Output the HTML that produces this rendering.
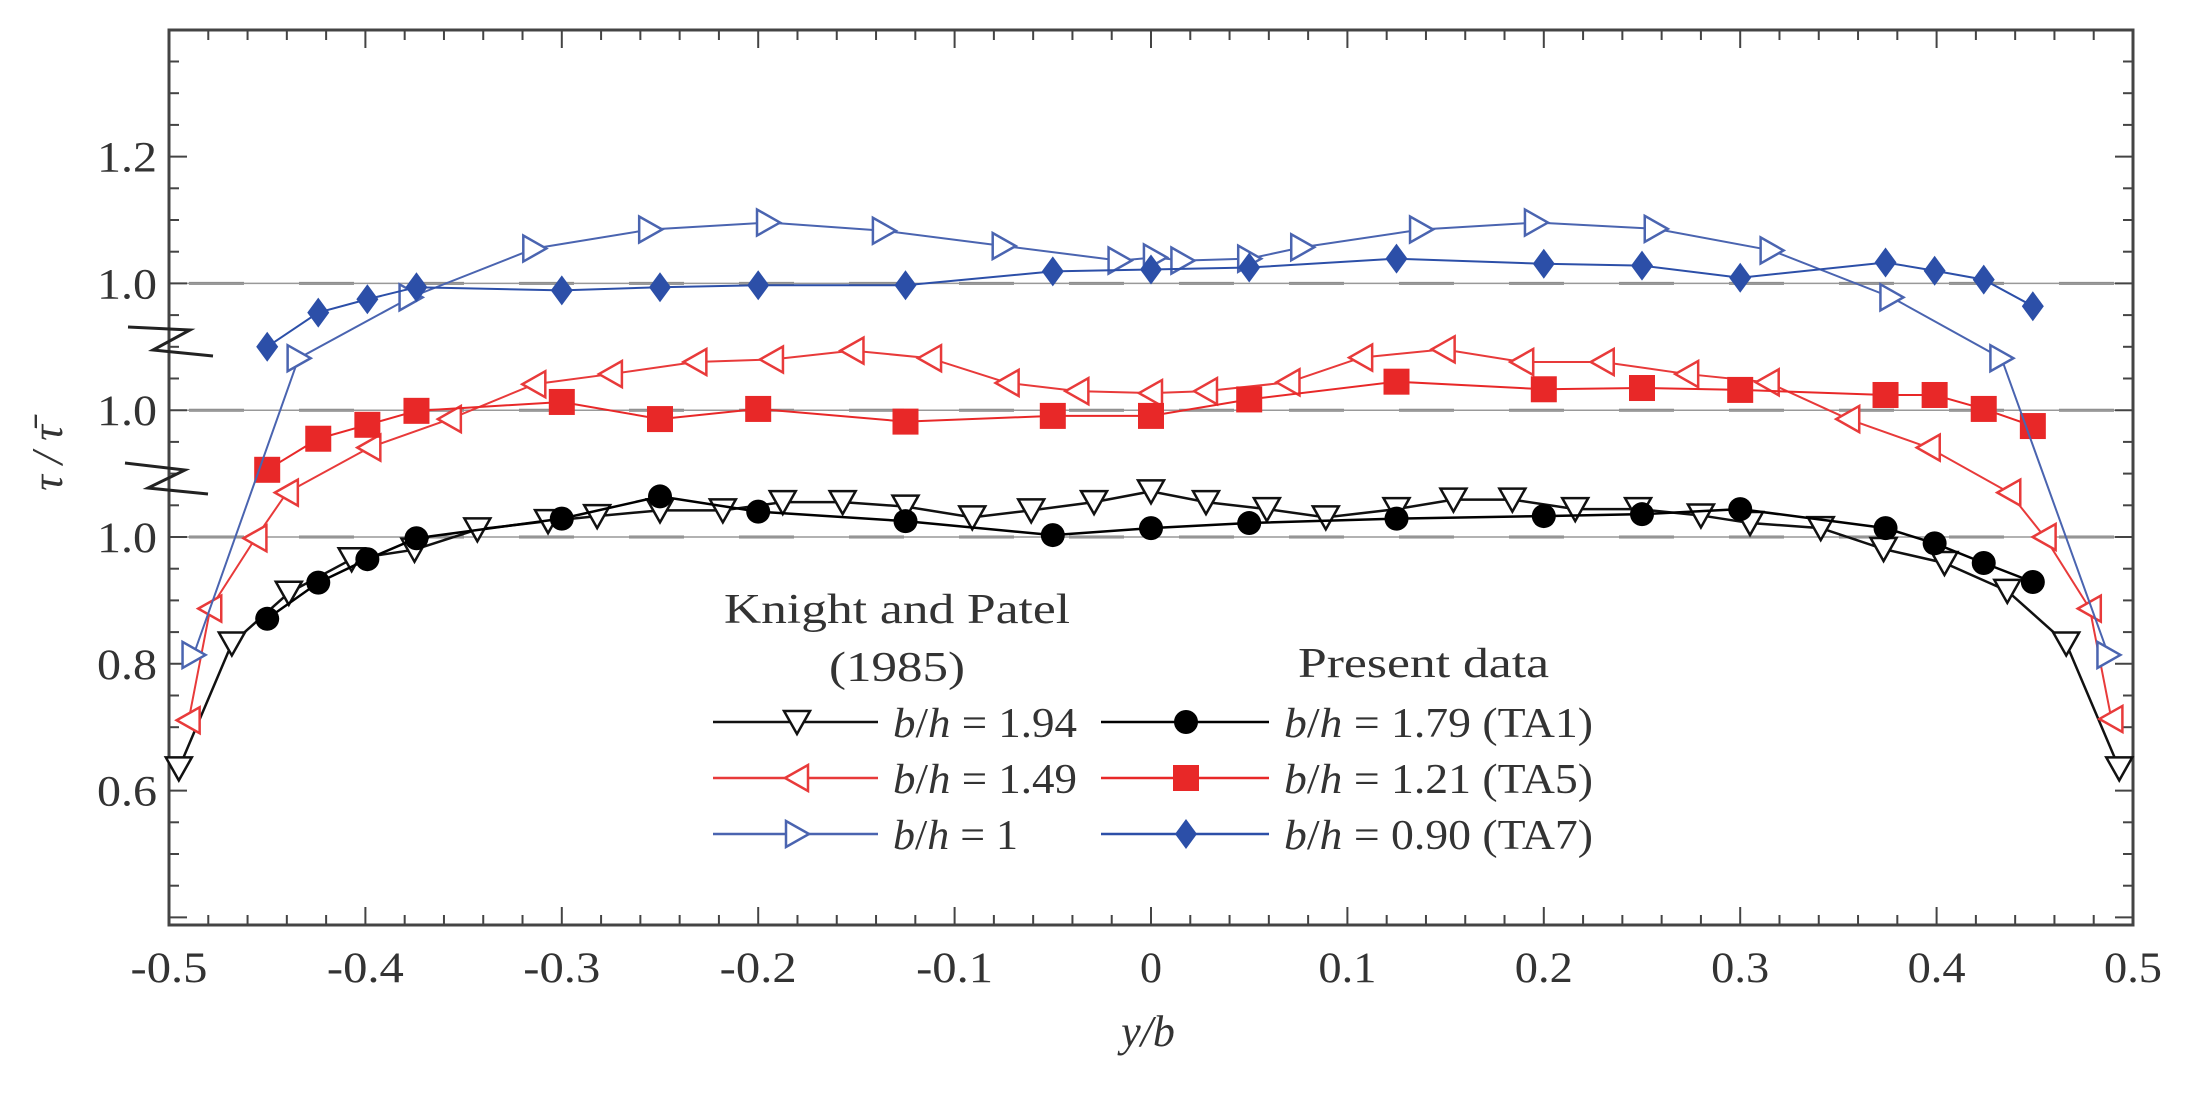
<!DOCTYPE html>
<html><head><meta charset="utf-8">
<style>
html,body{margin:0;padding:0;background:#fff;}
svg{display:block;font-family:"Liberation Serif",serif;}
</style></head>
<body>
<svg id="chart" width="2203" height="1093" viewBox="0 0 2203 1093" xmlns="http://www.w3.org/2000/svg">
<g id="grid"></g>
<g id="axes"></g>
<g id="series"></g>
<g id="legend">
  <text x="724" y="623" font-size="42" textLength="346" lengthAdjust="spacingAndGlyphs" fill="#333">Knight and Patel</text>
  <text x="829" y="681" font-size="42" textLength="136" lengthAdjust="spacingAndGlyphs" fill="#333">(1985)</text>
  <text x="1298" y="677" font-size="42" textLength="251" lengthAdjust="spacingAndGlyphs" fill="#333">Present data</text>
</g>
<text x="1148" y="1046" font-size="44" font-style="italic" text-anchor="middle" fill="#333">y/b</text>
<text transform="translate(62,458) rotate(-90)" font-size="44" font-style="italic" text-anchor="middle" fill="#333">τ / τ̄</text>
</svg>
<script>
// ---- data ----
const xKP194 = [-0.495,-0.468,-0.439,-0.407,-0.375,-0.343,-0.307,-0.282,-0.25,-0.218,-0.1875,-0.157,-0.125,-0.091,-0.061,-0.029,0,0.028,0.059,0.089,0.125,0.154,0.184,0.216,0.248,0.28,0.305,0.341,0.373,0.404,0.436,0.466,0.493];
const yKP194 = [0.635,0.832,0.912,0.965,0.98,1.012,1.025,1.033,1.042,1.042,1.055,1.055,1.048,1.031,1.042,1.055,1.072,1.055,1.044,1.031,1.044,1.059,1.059,1.044,1.044,1.034,1.022,1.014,0.981,0.959,0.915,0.832,0.635];
const xTA1 = [-0.45,-0.424,-0.399,-0.374,-0.3,-0.25,-0.2,-0.125,-0.05,0,0.05,0.125,0.2,0.25,0.3,0.374,0.399,0.424,0.449];
const yTA1 = [0.871,0.928,0.965,0.998,1.029,1.064,1.04,1.025,1.003,1.014,1.022,1.029,1.033,1.036,1.044,1.014,0.99,0.959,0.929];
const xKP149 = [-0.49,-0.479,-0.456,-0.44,-0.398,-0.357,-0.314,-0.275,-0.232,-0.193,-0.152,-0.1125,-0.073,-0.0375,0,0.028,0.07,0.107,0.149,0.189,0.23,0.273,0.314,0.355,0.396,0.437,0.455,0.478,0.489];
const yKP149 = [0.511,0.687,0.798,0.87,0.941,0.986,1.041,1.057,1.076,1.08,1.094,1.082,1.043,1.03,1.027,1.03,1.044,1.083,1.096,1.076,1.076,1.057,1.044,0.986,0.941,0.87,0.80,0.687,0.513];
const xTA5 = [-0.45,-0.424,-0.399,-0.374,-0.3,-0.25,-0.2,-0.125,-0.05,0,0.05,0.125,0.2,0.25,0.3,0.374,0.399,0.424,0.449];
const yTA5 = [0.906,0.955,0.977,0.999,1.013,0.986,1.002,0.982,0.991,0.991,1.017,1.045,1.033,1.035,1.032,1.024,1.024,1.002,0.975];
const xKP1 = [-0.4875,-0.434,-0.377,-0.314,-0.255,-0.195,-0.136,-0.075,-0.016,0.002,0.016,0.05,0.077,0.1375,0.196,0.257,0.316,0.377,0.433,0.4875];
const yKP1 = [0.414,0.882,0.978,1.055,1.085,1.096,1.083,1.059,1.036,1.041,1.036,1.039,1.057,1.085,1.096,1.086,1.052,0.978,0.882,0.414];
const xTA7 = [-0.45,-0.424,-0.399,-0.374,-0.3,-0.25,-0.2,-0.125,-0.05,0,0.05,0.125,0.2,0.25,0.3,0.374,0.399,0.424,0.449];
const yTA7 = [0.9,0.954,0.975,0.994,0.989,0.994,0.997,0.997,1.019,1.022,1.025,1.039,1.031,1.028,1.009,1.033,1.02,1.006,0.964];
const xTickLabels = ["-0.5","-0.4","-0.3","-0.2","-0.1","0","0.1","0.2","0.3","0.4","0.5"];
const yTickValues = [0.6,0.8,1.0,1.2,1.4,1.6];
const yTickLabels = ["0.6","0.8","1.0","1.0","1.0","1.2"];
const groupOffsets = [0,0.2,0.4];

// ---- scales ----
const L=169,R=2133,T=30,B=925;
function sx(v){return L+(v+0.5)*(R-L);}
function sy(v){return 537-(v-1)*634;}
const NS="http://www.w3.org/2000/svg";
function mk(tag,attrs,parent){const e=document.createElementNS(NS,tag);for(const k in attrs)e.setAttribute(k,attrs[k]);parent.appendChild(e);return e;}

const grid=document.getElementById('grid');
groupOffsets.forEach(o=>{
  const y=sy(1+o);
  const d=mk('line',{x1:L,x2:R,y1:y,y2:y,stroke:'#888','stroke-width':3,'stroke-dasharray':'55 55','stroke-dashoffset':'-20'},grid);
  
  
  const s=mk('line',{x1:L,x2:R,y1:y,y2:y,stroke:'#999','stroke-width':1.5},grid);
  
  
});

const axes=document.getElementById('axes');
const frame=mk('rect',{x:L,y:T,width:R-L,height:B-T,fill:'none',stroke:'#444','stroke-width':3},axes);


for(let i=0;i<=50;i++){
  const v=-0.5+i*0.02;const x=sx(v);const major=(i%5===0);const len=major?18:10;
  mk('line',{x1:x,x2:x,y1:B,y2:B-len,stroke:'#444','stroke-width':2},axes);
  mk('line',{x1:x,x2:x,y1:T,y2:T+len,stroke:'#444','stroke-width':2},axes);
}
xTickLabels.forEach((lab,i)=>{
  const len = lab==="0" ? 22 : (lab.length===4 ? 77 : 58);
  const t=mk('text',{x:sx(-0.5+i*0.1)-len/2,y:982,'font-size':43,textLength:len,lengthAdjust:'spacingAndGlyphs',fill:'#333'},axes);
  t.textContent=lab;
  
  
});
for(let i=0;i<=40;i++){
  const v=0.35+i*0.05;const y=sy(v);if(y>B||y<T)continue;
  const major=(Math.round(v*100)%20===0);const len=major?18:10;
  mk('line',{x1:L,x2:L+len,y1:y,y2:y,stroke:'#444','stroke-width':2},axes);
  mk('line',{x1:R,x2:R-len,y1:y,y2:y,stroke:'#444','stroke-width':2},axes);
}
yTickValues.forEach((v,i)=>{
  const t=mk('text',{x:97,y:sy(v)+15,'font-size':43,textLength:60,lengthAdjust:'spacingAndGlyphs',fill:'#333'},axes);
  t.textContent=yTickLabels[i];
  
  
});
[[128,327,190,330,153,350,213,356],[125,463,185,470,148,488,208,494]].forEach(p=>{
  const z=mk('polyline',{points:p.join(' '),fill:'none',stroke:'#222','stroke-width':3},axes);
  
  
});

function marker(type,x,y,color,parent){
  if(type==='tdown') return mk('polygon',{points:`${x-13},${y-11} ${x+13},${y-11} ${x},${y+12}`,fill:'#fff',stroke:color,'stroke-width':2.5},parent);
  if(type==='tleft') return mk('polygon',{points:`${x-12},${y} ${x+11},${y-13} ${x+11},${y+13}`,fill:'#fff',stroke:color,'stroke-width':2.5},parent);
  if(type==='tright') return mk('polygon',{points:`${x+12},${y} ${x-11},${y-13} ${x-11},${y+13}`,fill:'#fff',stroke:color,'stroke-width':2.5},parent);
  if(type==='circle') return mk('circle',{cx:x,cy:y,r:12,fill:color},parent);
  if(type==='square') return mk('rect',{x:x-13,y:y-13,width:26,height:26,fill:color},parent);
  if(type==='diamond') return mk('polygon',{points:`${x},${y-15} ${x+11},${y} ${x},${y+15} ${x-11},${y}`,fill:color},parent);
}
const seriesG=document.getElementById('series');
const defs=[
 {name:'series-knight-1.94',xs:xKP194,ys:yKP194,off:0,color:'#111',m:'tdown',w:2.5},
 {name:'series-ta1-1.79',xs:xTA1,ys:yTA1,off:0,color:'#000',m:'circle',w:2.5},
 {name:'series-knight-1.49',xs:xKP149,ys:yKP149,off:0.2,color:'#e83a3a',m:'tleft',w:2},
 {name:'series-ta5-1.21',xs:xTA5,ys:yTA5,off:0.2,color:'#e82828',m:'square',w:2},
 {name:'series-knight-1',xs:xKP1,ys:yKP1,off:0.4,color:'#4a64b0',m:'tright',w:2},
 {name:'series-ta7-0.90',xs:xTA7,ys:yTA7,off:0.4,color:'#2c4fa8',m:'diamond',w:2}
];
defs.forEach(d=>{
  const g=mk('g',{},seriesG);
  
  
  const pts=d.xs.map((x,i)=>sx(x)+','+sy(d.ys[i]+d.off)).join(' ');
  const pl=mk('polyline',{points:pts,fill:'none',stroke:d.color,'stroke-width':d.w},g);
  
  
  d.xs.forEach((x,i)=>{
    const mm=marker(d.m,sx(x),sy(d.ys[i]+d.off),d.color,g);
    
    
  });
});

// legend
const leg=document.getElementById('legend');
const rowsY=[722,778,834];
const left=[['tdown','#111','1.94',184],['tleft','#e83a3a','1.49',184],['tright','#4a64b0','1',125]];
const right=[['circle','#000','1.79 (TA1)',309],['square','#e82828','1.21 (TA5)',309],['diamond','#2c4fa8','0.90 (TA7)',309]];
function legRow(item,y,x1,x2,mx,tx){
  const g=mk('g',{},leg);
  
  
  mk('line',{x1:x1,x2:x2,y1:y,y2:y,stroke:item[1],'stroke-width':2.5},g);
  marker(item[0],mx,y,item[1],g);
  const t=mk('text',{x:tx,y:y+15,'font-size':42,fill:'#333',textLength:item[3],lengthAdjust:'spacingAndGlyphs'},g);
  t.innerHTML='<tspan font-style="italic">b</tspan>/<tspan font-style="italic">h</tspan> = '+item[2];
}
left.forEach((it,i)=>legRow(it,rowsY[i],713,878,797,893));
right.forEach((it,i)=>legRow(it,rowsY[i],1101,1269,1186,1284));
</script>
</body></html>
